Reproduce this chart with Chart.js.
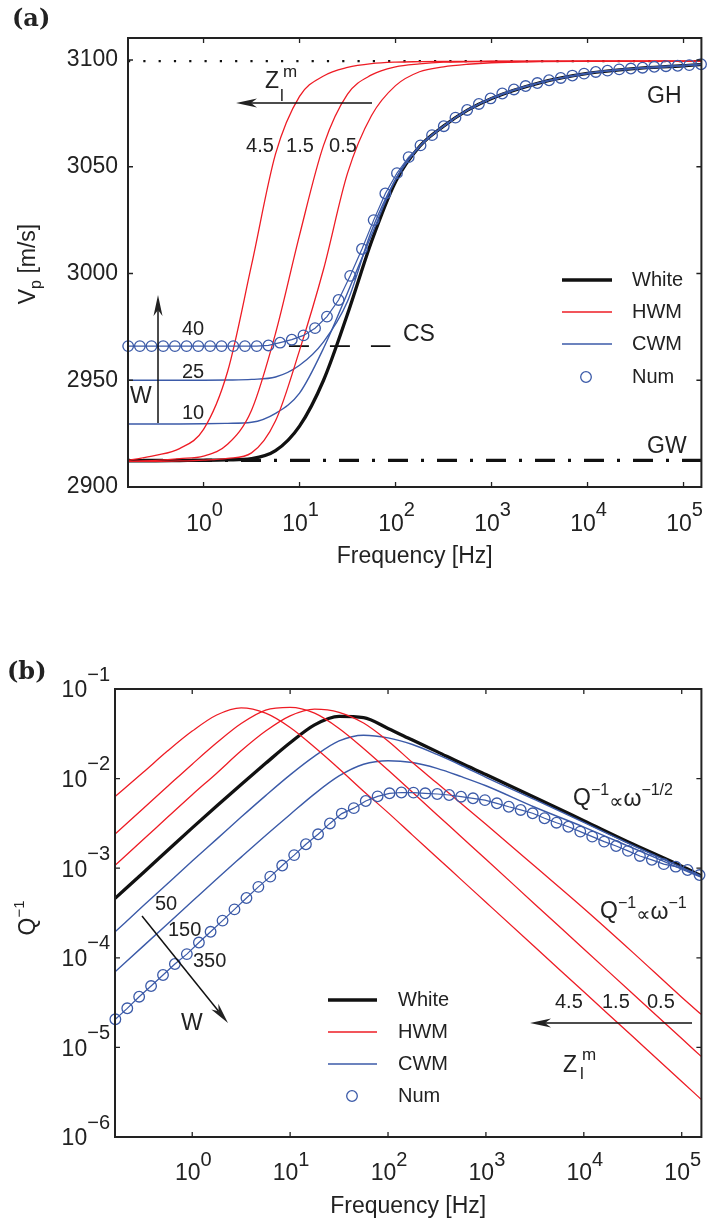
<!DOCTYPE html>
<html>
<head>
<meta charset="utf-8">
<script src="https://cdn.jsdelivr.net/npm/chart.js@4.4.1/dist/chart.umd.min.js"></script>
<style>
  body { margin: 0; background: #fff; }
  #wrap { position: relative; width: 708px; height: 1228px; }
  canvas { position: absolute; left: 0; }
  #chart-a { top: 0; }
  #chart-b { top: 600px; }
</style>
</head>
<body>
<div id="wrap">
  <canvas id="chart-a" width="708" height="600"></canvas>
  <canvas id="chart-b" width="708" height="628"></canvas>
</div>
<script>
// frequency grid of the model curves [Hz]
const freq = [0.163, 0.316, 0.562, 1, 1.778, 3.162, 5.623, 10, 17.78, 31.62, 56.23, 100,
              177.8, 316.2, 562.3, 1000, 3162, 10000, 31620, 100000, 158000];
// frequencies of the numerical results (circles)
const numFreq = [0.164, 0.217, 0.287, 0.380, 0.503, 0.665, 0.881, 1.17, 1.54, 2.04,
                 2.70, 3.58, 4.74, 6.27, 8.30, 11.0, 14.5, 19.3, 25.5, 33.7,
                 44.7, 59.2, 78.3, 103.5, 137, 182, 240, 318, 421, 557,
                 738, 977, 1294, 1711, 2265, 3000, 3972, 5260, 6950, 9200,
                 12190, 16140, 21380, 28250, 37410, 49550, 65610, 86900, 114800, 152100];

// ---- panel (a): P-wave velocity [m/s]
const whiteA  = [2912.3, 2912.3, 2912.4, 2912.5, 2912.7, 2913.3, 2917, 2928.5, 2950, 2981, 3015,
                 3043, 3059.5, 3069, 3076.5, 3082, 3089.3, 3093.7, 3096, 3097.3, 3098];
const hwm45A  = [2912.5, 2914.8, 2918, 2927, 2954, 3004, 3056, 3083, 3092.5, 3096.5, 3098.3,
                 3099, 3099.2, 3099.3, 3099.3, 3099.4, 3099.4, 3099.5, 3099.5, 3099.5, 3099.5];
const hwm15A  = [2912, 2912.5, 2913.3, 2914.5, 2920, 2936, 2972, 3018, 3060, 3084, 3093,
                 3096.8, 3098.2, 3099, 3099.2, 3099.3, 3099.4, 3099.5, 3099.5, 3099.5, 3099.5];
const hwm05A  = [2912, 2912, 2912.2, 2912.6, 2913.4, 2916, 2931, 2964, 3002, 3047, 3074,
                 3088, 3094.5, 3096.8, 3098, 3098.7, 3099.2, 3099.4, 3099.5, 3099.5, 3099.5];
const cwm10A  = [2929.5, 2929.5, 2929.5, 2929.6, 2929.8, 2930.3, 2934.5, 2944, 2965, 2991, 3018,
                 3044, 3059.5, 3069, 3076.5, 3082, 3089.3, 3093.7, 3096, 3097.3, 3098];
const cwm25A  = [2950, 2950, 2950, 2950, 2950.1, 2950.4, 2951.5, 2957, 2968, 2987, 3020,
                 3044, 3059.5, 3069, 3076.5, 3082, 3089.3, 3093.7, 3096, 3097.3, 3098];
const numA    = [2966, 2966, 2966, 2966, 2966, 2966, 2966, 2966, 2966, 2966,
                 2966, 2966, 2966.3, 2967.6, 2969, 2971, 2974.4, 2979.8, 2987.6, 2998.9,
                 3011.5, 3025, 3037.5, 3047, 3054.5, 3060, 3064.8, 3069, 3073, 3076.6,
                 3079.4, 3082, 3084.3, 3086.2, 3087.8, 3089.2, 3090.5, 3091.6, 3092.7, 3093.6,
                 3094.4, 3095, 3095.6, 3096, 3096.4, 3096.8, 3097.1, 3097.3, 3097.6, 3098];
const ghLevel = 3099.5;          // Gassmann-Hill limit
const gwLevel = 2912.5;          // Gassmann-Wood limit
const csLevel = 2966;            // CS marker
const csFreq  = [7.75, 88.3];

// ---- panel (b): attenuation Q^-1
const whiteB  = [4.61e-4, 8.91e-4, 1.585e-3, 2.82e-3, 4.95e-3, 8.61e-3, 1.48e-2, 2.51e-2, 3.98e-2, 4.95e-2, 4.79e-2,
                 3.63e-2, 2.69e-2, 2.00e-2, 1.48e-2, 1.11e-2, 6.17e-3, 3.39e-3, 1.86e-3, 1.05e-3, 8.22e-4];
const hwm45B  = [6.31e-3, 1.175e-2, 2.04e-2, 3.39e-2, 5.13e-2, 6.17e-2, 5.37e-2, 3.72e-2, 2.24e-2, 1.29e-2, 7.24e-3,
                 4.17e-3, 2.34e-3, 1.32e-3, 7.41e-4, 4.17e-4, 1.32e-4, 4.17e-5, 1.32e-5, 4.17e-6, 2.63e-6];
const hwm15B  = [2.40e-3, 4.65e-3, 8.22e-3, 1.45e-2, 2.51e-2, 4.12e-2, 5.82e-2, 6.24e-2, 5.37e-2, 3.63e-2, 2.17e-2,
                 1.245e-2, 7.03e-3, 3.96e-3, 2.23e-3, 1.256e-3, 3.97e-4, 1.256e-4, 3.97e-5, 1.256e-5, 7.94e-6];
const hwm05B  = [1.08e-3, 2.09e-3, 3.72e-3, 6.61e-3, 1.15e-2, 2.04e-2, 3.39e-2, 5.01e-2, 5.96e-2, 5.50e-2, 4.17e-2,
                 2.63e-2, 1.51e-2, 8.91e-3, 5.25e-3, 3.09e-3, 1.05e-3, 3.55e-4, 1.15e-4, 3.63e-5, 2.34e-5];
const cwm50B  = [1.95e-4, 3.80e-4, 6.76e-4, 1.20e-3, 2.11e-3, 3.72e-3, 6.46e-3, 1.10e-2, 1.78e-2, 2.63e-2, 3.05e-2,
                 2.85e-2, 2.40e-2, 1.86e-2, 1.40e-2, 1.035e-2, 5.82e-3, 3.24e-3, 1.80e-3, 1.02e-3, 8.13e-4];
const cwm150B = [6.97e-5, 1.35e-4, 2.40e-4, 4.27e-4, 7.59e-4, 1.33e-3, 2.32e-3, 3.98e-3, 6.76e-3, 1.07e-2, 1.445e-2,
                 1.585e-2, 1.51e-2, 1.30e-2, 1.05e-2, 8.32e-3, 4.79e-3, 2.88e-3, 1.68e-3, 9.77e-4, 7.94e-4];
const numB    = [2.06e-5, 2.73e-5, 3.68e-5, 4.84e-5, 6.43e-5, 8.53e-5, 1.10e-4, 1.48e-4, 1.95e-4, 2.60e-4,
                 3.47e-4, 4.65e-4, 6.19e-4, 8.05e-4, 1.07e-3, 1.40e-3, 1.85e-3, 2.39e-3, 3.16e-3, 4.07e-3,
                 4.68e-3, 5.62e-3, 6.34e-3, 6.85e-3, 7.00e-3, 6.97e-3, 6.85e-3, 6.73e-3, 6.56e-3, 6.28e-3,
                 6.03e-3, 5.75e-3, 5.30e-3, 4.85e-3, 4.47e-3, 4.10e-3, 3.61e-3, 3.22e-3, 2.90e-3, 2.56e-3,
                 2.25e-3, 1.98e-3, 1.77e-3, 1.56e-3, 1.37e-3, 1.24e-3, 1.11e-3, 1.04e-3, 9.55e-4, 8.39e-4];

// ticks
const xTicks    = [1, 10, 100, 1000, 10000, 100000];
const xTickExp  = ['0', '1', '2', '3', '4', '5'];
const yTicksA   = [2900, 2950, 3000, 3050, 3100];
const yTicksB   = [1e-6, 1e-5, 1e-4, 1e-3, 1e-2, 1e-1];
const yTickExpB = ['\u22126', '\u22125', '\u22124', '\u22123', '\u22122', '\u22121'];

const legendNames = ['White', 'HWM', 'CWM', 'Num'];

const RED = '#ee1c25', BLUE = '#3b5aa8', BLACK = '#111', INK = '#222';

function pts(xs, ys) {
    return xs.map((x, i) => ({x: x, y: ys[i]}));
}

function curve(data, color, width, order) {
    return {data: data, borderColor: color, borderWidth: width, pointRadius: 0, fill: false,
            cubicInterpolationMode: 'monotone', order: order};
}

function numSet(data) {
    return {data: data, borderColor: BLUE, borderWidth: 1.2, showLine: true, tension: 0,
            pointRadius: 5.3, pointBorderWidth: 1.3, pointBorderColor: BLUE,
            pointBackgroundColor: 'rgba(0,0,0,0)', clip: false, order: 0};
}

function refLine(x0, x1, level, dash, width, offset) {
    return {data: [{x: x0, y: level}, {x: x1, y: level}], borderColor: BLACK, borderWidth: width,
            borderDash: dash, borderDashOffset: offset || 0, pointRadius: 0, order: 5};
}

// ---- drawing helpers
function font(sz) { return sz + 'px "Liberation Sans", "DejaVu Sans", Arial, sans-serif'; }

function txt(ctx, s, x, y, sz, align) {
    ctx.font = font(sz);
    ctx.textAlign = align || 'left';
    ctx.textBaseline = 'middle';
    ctx.fillText(s, x, y);
    return ctx.measureText(s).width;
}

// a run of text pieces: [text, size, dy]
function run(ctx, x, y, pieces) {
    let cx = x;
    pieces.forEach(p => { cx += txt(ctx, p[0], cx, y + (p[2] || 0), p[1]); });
}

function arrow(ctx, x1, y1, x2, y2) {
    const a = Math.atan2(y2 - y1, x2 - x1);
    const L = 21, W = 4.5, N = 15;
    ctx.beginPath();
    ctx.moveTo(x1, y1);
    ctx.lineTo(x2 - N * Math.cos(a), y2 - N * Math.sin(a));
    ctx.stroke();
    ctx.save();
    ctx.translate(x2, y2);
    ctx.rotate(a);
    ctx.beginPath();
    ctx.moveTo(0, 0); ctx.lineTo(-L, -W); ctx.lineTo(-N, 0); ctx.lineTo(-L, W);
    ctx.closePath(); ctx.fill();
    ctx.restore();
}

function pow10(ctx, x, y, exp, align, dySup) {
    ctx.font = font(23); const w1 = ctx.measureText('10').width;
    ctx.font = font(20); const w2 = ctx.measureText(exp).width;
    let left = align == 'right' ? x - w1 - w2 : x - (w1 + w2) / 2;
    txt(ctx, '10', left, y, 23);
    txt(ctx, exp, left + w1, y + dySup, 20);
}

function frame(chart, yTicks) {
    const ctx = chart.ctx, a = chart.chartArea, sx = chart.scales.x, sy = chart.scales.y;
    ctx.strokeStyle = INK;
    ctx.lineWidth = 1.3;
    ctx.beginPath();
    xTicks.forEach(v => {
        const px = sx.getPixelForValue(v);
        ctx.moveTo(px, a.bottom); ctx.lineTo(px, a.bottom - 5);
        ctx.moveTo(px, a.top); ctx.lineTo(px, a.top + 5);
    });
    yTicks.forEach(v => {
        const py = sy.getPixelForValue(v);
        ctx.moveTo(a.left, py); ctx.lineTo(a.left + 5, py);
        ctx.moveTo(a.right, py); ctx.lineTo(a.right - 5, py);
    });
    ctx.stroke();
    ctx.lineWidth = 2;
    ctx.strokeRect(a.left, a.top, a.right - a.left, a.bottom - a.top);
}

function legend(ctx, x0, x1, xt, rows, circleX) {
    const styles = [[BLACK, 3.4], [RED, 1.4], [BLUE, 1.5]];
    rows.forEach((y, i) => {
        if (i < 3) {
            ctx.strokeStyle = styles[i][0]; ctx.lineWidth = styles[i][1];
            ctx.beginPath(); ctx.moveTo(x0, y); ctx.lineTo(x1, y); ctx.stroke();
        } else {
            ctx.strokeStyle = BLUE; ctx.lineWidth = 1.3;
            ctx.beginPath(); ctx.arc(circleX, y, 5.3, 0, 2 * Math.PI); ctx.stroke();
        }
        ctx.fillStyle = INK;
        txt(ctx, legendNames[i], xt, y, 20);
    });
}

// ---- decorations of panel (a)
const decoA = {
    id: 'decoA',
    afterDraw(chart) {
        const ctx = chart.ctx, sx = chart.scales.x, sy = chart.scales.y, a = chart.chartArea;
        ctx.save();
        frame(chart, yTicksA);
        ctx.fillStyle = INK;
        yTicksA.forEach(v => txt(ctx, String(v), 118, sy.getPixelForValue(v), 23, 'right'));
        xTicks.forEach((v, i) => pow10(ctx, sx.getPixelForValue(v) + 1, 525, xTickExp[i], 'center', -15));
        txt(ctx, 'Frequency [Hz]', (a.left + a.right) / 2, 557, 23, 'center');
        // y title  V_p [m/s]
        ctx.save();
        ctx.translate(29, 264);
        ctx.rotate(-Math.PI / 2);
        ctx.font = font(23); const wV = ctx.measureText('V').width, wU = ctx.measureText(' [m/s]').width;
        ctx.font = font(16); const wp = ctx.measureText('p').width;
        let s = -(wV + wp + wU) / 2;
        txt(ctx, 'V', s, 0, 23); txt(ctx, 'p', s + wV, 8, 16); txt(ctx, ' [m/s]', s + wV + wp, 0, 23);
        ctx.restore();
        // panel label
        ctx.font = 'bold 24px "DejaVu Serif", serif'; ctx.textAlign = 'left'; ctx.textBaseline = 'alphabetic';
        ctx.fillText('(a)', 12, 26);
        // legend
        legend(ctx, 562, 612, 632, [280, 312, 344, 377], 586);
        // annotations
        ctx.fillStyle = INK; ctx.strokeStyle = BLACK; ctx.lineWidth = 1.5;
        arrow(ctx, 372, 103, 236, 103);
        txt(ctx, 'Z', 265, 82, 23); txt(ctx, 'm', 283, 72, 17); txt(ctx, 'l', 280, 96, 17);
        txt(ctx, '4.5', 260, 146, 20, 'center');
        txt(ctx, '1.5', 300, 146, 20, 'center');
        txt(ctx, '0.5', 343, 146, 20, 'center');
        txt(ctx, 'GH', 647, 97, 23);
        txt(ctx, 'GW', 647, 447, 23);
        txt(ctx, 'CS', 403, 335, 23);
        arrow(ctx, 158, 423, 158, 295);
        txt(ctx, 'W', 130, 397, 23);
        txt(ctx, '40', 182, 329, 20);
        txt(ctx, '25', 182, 372, 20);
        txt(ctx, '10', 182, 413, 20);
        ctx.restore();
    }
};

// ---- decorations of panel (b)
const decoB = {
    id: 'decoB',
    afterDraw(chart) {
        const ctx = chart.ctx, sx = chart.scales.x, sy = chart.scales.y, a = chart.chartArea;
        ctx.save();
        frame(chart, yTicksB);
        ctx.fillStyle = INK;
        yTicksB.forEach((v, i) => pow10(ctx, 110, sy.getPixelForValue(v) + 2, yTickExpB[i], 'right', -16));
        xTicks.forEach((v, i) => pow10(ctx, sx.getPixelForValue(v) + 1, 574, xTickExp[i], 'center', -14));
        txt(ctx, 'Frequency [Hz]', (a.left + a.right) / 2, 607, 23, 'center');
        // y title  Q^-1
        ctx.save();
        ctx.translate(29, 318);
        ctx.rotate(-Math.PI / 2);
        ctx.font = font(23); const wQ = ctx.measureText('Q').width;
        ctx.font = font(15); const we = ctx.measureText('\u22121').width;
        let s = -(wQ + we) / 2;
        txt(ctx, 'Q', s, 0, 23); txt(ctx, '\u22121', s + wQ, -9, 15);
        ctx.restore();
        ctx.font = 'bold 24px "DejaVu Serif", serif'; ctx.textAlign = 'left'; ctx.textBaseline = 'alphabetic';
        ctx.fillText('(b)', 7, 79);
        legend(ctx, 328, 377, 398, [400, 432, 464, 496], 352);
        ctx.fillStyle = INK; ctx.strokeStyle = BLACK; ctx.lineWidth = 1.5;
        txt(ctx, '50', 155, 304, 20);
        txt(ctx, '150', 168, 330, 20);
        txt(ctx, '350', 193, 361, 20);
        arrow(ctx, 142, 316, 228, 423);
        txt(ctx, 'W', 181, 424, 23);
        txt(ctx, '4.5', 555, 402, 20);
        txt(ctx, '1.5', 602, 402, 20);
        txt(ctx, '0.5', 647, 402, 20);
        arrow(ctx, 692, 423, 530, 423);
        txt(ctx, 'Z', 563, 466, 23); txt(ctx, 'm', 582, 455, 17); txt(ctx, 'l', 580, 474, 17);
        run(ctx, 573, 199, [['Q', 23], ['\u22121', 16, -8], ['\u221d', 20, 3], ['\u03c9', 23, 1], ['\u22121/2', 16, -8]]);
        run(ctx, 600, 312, [['Q', 23], ['\u22121', 16, -8], ['\u221d', 20, 3], ['\u03c9', 23, 1], ['\u22121', 16, -8]]);
        ctx.restore();
    }
};

function baseOptions(pad, yScale) {
    return {
        responsive: false,
        animation: false,
        events: [],
        layout: {padding: pad},
        plugins: {legend: {display: false}, tooltip: {enabled: false}},
        scales: {
            x: {type: 'logarithmic', min: 0.1633, max: 153500, display: false},
            y: yScale
        }
    };
}

const optsA = baseOptions({left: 128, top: 38, right: 3, bottom: 113},
                          {type: 'linear', min: 2900, max: 3110.3, display: false});
optsA.scales.x.min = 0.1633; optsA.scales.x.max = 153500;

new Chart(document.getElementById('chart-a'), {
    type: 'line',
    data: {
        datasets: [
            numSet(pts(numFreq, numA)),
            curve(pts(freq, hwm45A), RED, 1.3, 1),
            curve(pts(freq, hwm15A), RED, 1.3, 1),
            curve(pts(freq, hwm05A), RED, 1.3, 1),
            curve(pts(freq, cwm10A), BLUE, 1.4, 2),
            curve(pts(freq, cwm25A), BLUE, 1.4, 2),
            curve(pts(freq, whiteA), BLACK, 3.3, 3),
            refLine(0.1633, 153500, ghLevel, [2.2, 13.1], 2.2, 0),
            refLine(0.1633, 153500, gwLevel, [20, 13, 3, 13], 3.2, 34),
            refLine(csFreq[0], csFreq[1], csLevel, [20, 21], 1.6, 0)
        ]
    },
    options: optsA,
    plugins: [decoA]
});

const optsB = baseOptions({left: 115, top: 89, right: 6, bottom: 91},
                          {type: 'logarithmic', min: 1e-6, max: 1e-1, display: false});
optsB.scales.x.min = 0.1626; optsB.scales.x.max = 158900;

new Chart(document.getElementById('chart-b'), {
    type: 'line',
    data: {
        datasets: [
            numSet(pts(numFreq, numB)),
            curve(pts(freq, hwm45B), RED, 1.3, 1),
            curve(pts(freq, hwm15B), RED, 1.3, 1),
            curve(pts(freq, hwm05B), RED, 1.3, 1),
            curve(pts(freq, cwm50B), BLUE, 1.4, 2),
            curve(pts(freq, cwm150B), BLUE, 1.4, 2),
            curve(pts(freq, whiteB), BLACK, 3.3, 3)
        ]
    },
    options: optsB,
    plugins: [decoB]
});
</script>
</body>
</html>
